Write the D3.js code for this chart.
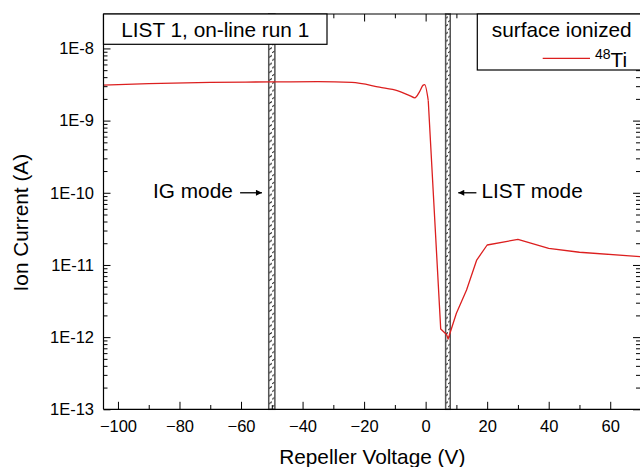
<!DOCTYPE html>
<html>
<head>
<meta charset="utf-8">
<script src="https://cdn.jsdelivr.net/npm/d3@7"></script>
<style>
  html, body { margin: 0; padding: 0; background: #fff; }
  svg { display: block; font-family: Arial, "Liberation Sans", sans-serif; }
</style>
</head>
<body>
<svg id="chart" width="640" height="467"></svg>
<script>
// ---- data ----
const voltage = [-105, -90, -70, -50, -35, -24, -15, -9, -5, -3.5, -2, -0.8, -0.3, 0.85, 4.9, 6.8, 7.3, 10, 13.3, 16.6, 20, 30, 40, 50, 70];
const current = [3.10e-9, 3.25e-9, 3.38e-9, 3.44e-9, 3.46e-9, 3.38e-9, 2.91e-9, 2.59e-9, 2.2e-9, 2.07e-9, 2.5e-9, 3.1e-9, 3.15e-9, 1.9e-9, 1.3e-12, 1.09e-12, 9.4e-13, 2.14e-12, 4.5e-12, 1.17e-11, 1.89e-11, 2.26e-11, 1.7e-11, 1.5e-11, 1.3e-11];
const smoothUpTo = 0.85; // the scan is smooth up to here, measured point-to-point after
const xTickValues = [-100, -80, -60, -40, -20, 0, 20, 40, 60];
const yTickValues = [1e-13, 1e-12, 1e-11, 1e-10, 1e-9, 1e-8];
const yTickLabels = ["1E-13", "1E-12", "1E-11", "1E-10", "1E-9", "1E-8"];
const modeBands = [
  { label: "IG mode", from: -51, to: -49, side: "left", arrowFrom: -60.3, arrowTo: -53.2, level: 1e-10 },
  { label: "LIST mode", from: 6.5, to: 8, side: "right", arrowFrom: 16.5, arrowTo: 10.6, level: 1e-10 }
];
const runTitle = "LIST 1, on-line run 1";
const legendTitle = "surface ionized";
const seriesName = "Ti";
const seriesMass = "48";
const xTitle = "Repeller Voltage (V)";
const yTitle = "Ion Current (A)";

// ---- layout ----
const pLeft = 103.5, pRight = 641, pTop = 14, pBottom = 409.3;
const red = "#dc1f1f";
const svg = d3.select("#chart");
const x = d3.scaleLinear().domain([-104.7, 70]).range([pLeft, pRight]);
const y = d3.scaleLog().domain([1e-13, 3e-8]).range([pBottom, pTop]);

const minorX = d3.range(-100, 71, 10).filter(v => v % 20 !== 0);
const minorY = [];
for (let e = -13; e <= -8; e++) for (let m = 2; m <= 9; m++) {
  const v = m * Math.pow(10, e);
  if (v <= 3e-8) minorY.push(v);
}

// defs
const defs = svg.append("defs");
defs.append("clipPath").attr("id", "plotclip").append("rect")
  .attr("x", pLeft).attr("y", pTop).attr("width", pRight - pLeft).attr("height", pBottom - pTop);
const pat = defs.append("pattern").attr("id", "hatch").attr("patternUnits", "userSpaceOnUse")
  .attr("width", 8).attr("height", 7.7);
pat.append("rect").attr("width", 8).attr("height", 7.7).attr("fill", "#fff");
pat.append("line").attr("x1", 0).attr("y1", 6.5).attr("x2", 8).attr("y2", 1.5)
  .attr("stroke", "#222").attr("stroke-width", 1);

// bands
modeBands.forEach(b => {
  svg.append("rect")
    .attr("x", x(b.from)).attr("y", pTop)
    .attr("width", x(b.to) - x(b.from)).attr("height", pBottom - pTop)
    .attr("fill", "url(#hatch)").attr("stroke", "#555").attr("stroke-width", 1.5);
});

// series line
const pts = voltage.map((v, i) => ({ v, c: current[i] }));
const smoothPart = pts.filter(d => d.v <= smoothUpTo);
const linearPart = pts.filter(d => d.v >= smoothUpTo);
const lineSmooth = d3.line().x(d => x(d.v)).y(d => y(d.c)).curve(d3.curveMonotoneX);
const lineLinear = d3.line().x(d => x(d.v)).y(d => y(d.c)).curve(d3.curveLinear);
const sg = svg.append("g").attr("clip-path", "url(#plotclip)")
  .attr("fill", "none").attr("stroke", red).attr("stroke-width", 1.3).attr("stroke-linejoin", "round");
sg.append("path").attr("d", lineSmooth(smoothPart));
sg.append("path").attr("d", lineLinear(linearPart));

// axes
const fontFam = "Arial, 'Liberation Sans', sans-serif";
const bottomAx = d3.axisBottom(x).tickValues(xTickValues).tickSizeInner(-7.5).tickSizeOuter(0).tickPadding(10).tickFormat(d3.format("d"));
const gb = svg.append("g").attr("transform", `translate(0,${pBottom})`).call(bottomAx);
gb.select(".domain").attr("d", `M${pLeft},0H${pRight}`);
gb.selectAll("text").attr("font-size", 16.5).attr("fill", "#000").attr("font-family", fontFam).attr("dy", "0.75em");
const gbm = svg.append("g").attr("transform", `translate(0,${pBottom})`).call(d3.axisBottom(x).tickValues(minorX).tickSizeInner(-4.3).tickSizeOuter(0).tickFormat(""));
gbm.select(".domain").remove();

const gt = svg.append("g").attr("transform", `translate(0,${pTop})`).call(d3.axisTop(x).tickValues(xTickValues).tickSizeInner(-7.5).tickSizeOuter(0).tickFormat(""));
gt.select(".domain").attr("d", `M${pLeft},0H${pRight}`);
const gtm = svg.append("g").attr("transform", `translate(0,${pTop})`).call(d3.axisTop(x).tickValues(minorX).tickSizeInner(-4.3).tickSizeOuter(0).tickFormat(""));
gtm.select(".domain").remove();

const gl = svg.append("g").attr("transform", `translate(${pLeft},0)`)
  .call(d3.axisLeft(y).tickValues(yTickValues).tickSizeInner(-7).tickSizeOuter(0).tickPadding(9.5)
    .tickFormat((d, i) => yTickLabels[i]));
gl.select(".domain").attr("d", `M0,${pTop}V${pBottom}`);
gl.selectAll("text").attr("font-size", 16.5).attr("fill", "#000").attr("font-family", fontFam);
const glm = svg.append("g").attr("transform", `translate(${pLeft},0)`)
  .call(d3.axisLeft(y).tickValues(minorY).tickSizeInner(-4).tickSizeOuter(0).tickFormat(""));
glm.select(".domain").remove();

const gr = svg.append("g").attr("transform", `translate(${pRight},0)`)
  .call(d3.axisRight(y).tickValues(yTickValues).tickSizeInner(-8).tickSizeOuter(0).tickFormat(""));
gr.select(".domain").attr("d", `M0,${pTop}V${pBottom}`);
const grm = svg.append("g").attr("transform", `translate(${pRight},0)`)
  .call(d3.axisRight(y).tickValues(minorY).tickSizeInner(-5).tickSizeOuter(0).tickFormat(""));
grm.select(".domain").remove();

svg.selectAll(".tick line").attr("stroke", "#000").attr("stroke-width", 1);
svg.selectAll(".domain").attr("stroke", "#000").attr("stroke-width", 1.2);

// axis titles
svg.append("text").attr("x", (pLeft + pRight) / 2).attr("y", 464).attr("text-anchor", "middle")
  .attr("font-size", 20.8).text(xTitle);
svg.append("text").attr("transform", `translate(27.5,${(pTop + pBottom) / 2 + 11}) rotate(-90)`)
  .attr("text-anchor", "middle").attr("font-size", 20.8).text(yTitle);

// run title box
const tb = svg.append("g");
tb.append("rect").attr("x", pLeft).attr("y", pTop).attr("width", 327 - pLeft).attr("height", 30.3)
  .attr("fill", "#fff").attr("stroke", "#000").attr("stroke-width", 1.2);
tb.append("text").attr("x", (pLeft + 327) / 2).attr("y", 36.7).attr("text-anchor", "middle")
  .attr("font-size", 20.8).text(runTitle);

// legend box
const lg = svg.append("g");
lg.append("rect").attr("x", 477.3).attr("y", pTop).attr("width", 170).attr("height", 56)
  .attr("fill", "#fff").attr("stroke", "#000").attr("stroke-width", 1.2);
lg.append("text").attr("x", 631.7).attr("y", 36.7).attr("text-anchor", "end")
  .attr("font-size", 20.8).text(legendTitle);
lg.append("line").attr("x1", 542.7).attr("x2", 590).attr("y1", 58.3).attr("y2", 58.3)
  .attr("stroke", red).attr("stroke-width", 1.3);
const lt = lg.append("text").attr("x", 595).attr("y", 67).attr("font-size", 20.8);
lt.append("tspan").attr("font-size", 14).attr("dy", -8).text(seriesMass);
lt.append("tspan").attr("dy", 8).text(seriesName);

// mode labels & arrows
defs.append("marker").attr("id", "arrowhead").attr("viewBox", "0 0 10 10")
  .attr("refX", 10).attr("refY", 5).attr("markerWidth", 9).attr("markerHeight", 6)
  .attr("markerUnits", "userSpaceOnUse").attr("orient", "auto")
  .append("path").attr("d", "M0,0L10,5L0,10Z").attr("fill", "#000");
modeBands.forEach(b => {
  const yy = y(b.level);
  svg.append("line").attr("x1", x(b.arrowFrom)).attr("x2", x(b.arrowTo))
    .attr("y1", yy).attr("y2", yy).attr("stroke", "#000").attr("stroke-width", 1.3)
    .attr("marker-end", "url(#arrowhead)");
  const isLeft = b.side === "left";
  svg.append("text").attr("x", isLeft ? x(b.arrowFrom) - 7.3 : x(b.arrowFrom) + 5)
    .attr("y", yy + 5.6).attr("text-anchor", isLeft ? "end" : "start")
    .attr("font-size", 20.8).text(b.label);
});
</script>
</body>
</html>
